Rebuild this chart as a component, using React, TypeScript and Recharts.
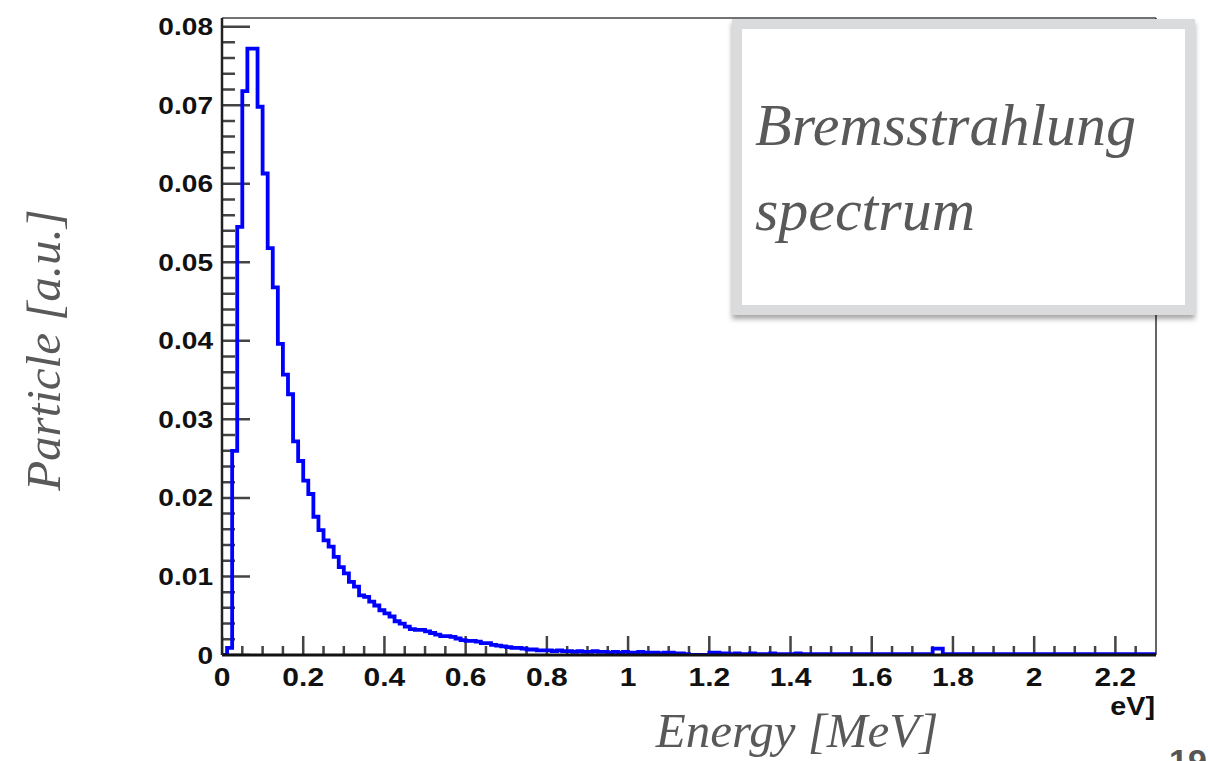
import React from "react";
import { ComposedChart, Line, XAxis, YAxis, ReferenceLine } from "recharts";

// Histogram binning (MeV)
const BIN_WIDTH = 0.0125;
const X_MAX = 2.3;
const Y_MAX = 0.0811;

// Bin contents, one value per 0.0125 MeV bin from 0 to 2.3 MeV
const BIN_VALUES: number[] = [
  0, 0.0009, 0.026, 0.0545, 0.0718, 0.0772, 0.0772, 0.0698, 0.0613, 0.0518,
  0.0468, 0.0396, 0.0357, 0.0332, 0.0272, 0.0247, 0.0222, 0.0205, 0.0176, 0.0159,
  0.0146, 0.0138, 0.0125, 0.0112, 0.0104, 0.0093, 0.0087, 0.0076, 0.0074, 0.0068,
  0.0063, 0.0057, 0.0053, 0.0049, 0.0043, 0.004, 0.0036, 0.0033, 0.0032, 0.0032,
  0.003, 0.0028, 0.0026, 0.0024, 0.0024, 0.0023, 0.0021, 0.0019, 0.0018, 0.0018,
  0.0017, 0.0015, 0.0015, 0.0013, 0.0012, 0.0011, 0.001, 0.0009, 0.0009, 0.0008,
  0.0007, 0.0007, 0.0006, 0.0006, 0.0006, 0.0005, 0.0006, 0.0005, 0.0005, 0.0004,
  0.0005, 0.0004, 0.0004, 0.0005, 0.0004, 0.0004, 0.0003, 0.0004, 0.0003, 0.0004,
  0.0003, 0.0003, 0.0004, 0.0003, 0.0003, 0.0003, 0.0002, 0.0003, 0.0003, 0.0002,
  0.0002, 0.0001, 0, 0, 0, 0, 0.0003, 0.0003, 0.0002, 0.0002,
  0.0001, 0.0002, 0.0001, 0.0001, 0.0002, 0.0001, 0.0001, 0.0001, 0.0002, 0.0001,
  0.0001, 0.0001, 0.0001, 0.0002, 0.0001, 0.0001, 0.0001, 0.0001, 0.0001, 0.0001,
  0.0001, 0.0001, 0.0001, 0.0001, 0.0001, 0.0001, 0.0001, 0.0001, 0.0001, 0.0001,
  0.0001, 0.0001, 0.0001, 0.0001, 0.0001, 0.0001, 0.0001, 0.0001, 0.0001, 0.0001,
  0.0008, 0.0008, 0.0001, 0.0001, 0.0001, 0.0001, 0.0001, 0.0001, 0.0001, 0.0001,
  0.0001, 0.0001, 0.0001, 0.0001, 0.0001, 0.0001, 0.0001, 0.0001, 0.0001, 0.0001,
  0.0001, 0.0001, 0.0001, 0.0001, 0.0001, 0.0001, 0.0001, 0.0001, 0.0001, 0.0001,
  0.0001, 0.0001, 0.0001, 0.0001, 0.0001, 0.0001, 0.0001, 0.0001, 0.0001, 0.0001,
  0.0001, 0.0001, 0.0001, 0.0001,
];

// Labelled axis divisions
const X_MAJOR = [0, 0.2, 0.4, 0.6, 0.8, 1, 1.2, 1.4, 1.6, 1.8, 2, 2.2];
const X_TICK_LABELS = ["0", "0.2", "0.4", "0.6", "0.8", "1", "1.2", "1.4", "1.6", "1.8", "2", "2.2"];
const Y_MAJOR = [0, 0.01, 0.02, 0.03, 0.04, 0.05, 0.06, 0.07, 0.08];
const Y_TICK_LABELS = ["0", "0.01", "0.02", "0.03", "0.04", "0.05", "0.06", "0.07", "0.08"];

// Unlabelled sub-divisions between labelled ticks
const X_MINOR_STEP = 0.05;
const Y_MINOR_STEP = 0.002;

const isMajor = (list: number[], v: number) => list.some((m) => Math.abs(m - v) < 1e-9);

const X_MINOR: number[] = [];
for (let i = 1; i * X_MINOR_STEP <= 2.25 + 1e-9; i++) {
  const v = i * X_MINOR_STEP;
  if (!isMajor(X_MAJOR, v)) X_MINOR.push(v);
}
const Y_MINOR: number[] = [];
for (let i = 1; i * Y_MINOR_STEP <= 0.08 + 1e-9; i++) {
  const v = i * Y_MINOR_STEP;
  if (!isMajor(Y_MAJOR, v)) Y_MINOR.push(v);
}

// Step-histogram points: left edge of each bin, plus closing edge
const histData = BIN_VALUES.map((v, i) => ({ e: i * BIN_WIDTH, v }));
histData.push({ e: BIN_VALUES.length * BIN_WIDTH, v: BIN_VALUES[BIN_VALUES.length - 1] });

// Chart frame
const CHART_W = 1208;
const CHART_H = 761;
const MARGIN = { top: 18, right: 52, bottom: 0, left: 0 };
const Y_AXIS_W = 222;
const X_AXIS_H = 106;
const PLOT_W = CHART_W - Y_AXIS_W - MARGIN.right;
const PLOT_H = CHART_H - MARGIN.top - X_AXIS_H;

// Inward tick lengths in pixels, turned into axis units
const Y_TICK_MAJOR_PX = 28;
const Y_TICK_MINOR_PX = 13;
const X_TICK_MAJOR_PX = 19;
const X_TICK_MINOR_PX = 9;
const alongX = (px: number) => (px / PLOT_W) * X_MAX;
const alongY = (px: number) => (px / PLOT_H) * Y_MAX;

// Tick marks as broken polylines (a null point lifts the pen between ticks)
type TickPt = { e: number; t: number | null };
const tickPath: TickPt[] = [];
const addYTick = (v: number, px: number) => {
  tickPath.push({ e: 0, t: v }, { e: alongX(px), t: v }, { e: alongX(px), t: null });
};
const addXTick = (v: number, px: number) => {
  tickPath.push({ e: v, t: 0 }, { e: v, t: alongY(px) }, { e: v, t: null });
};
Y_MAJOR.forEach((v) => addYTick(v, Y_TICK_MAJOR_PX));
Y_MINOR.forEach((v) => addYTick(v, Y_TICK_MINOR_PX));
X_MAJOR.forEach((v) => addXTick(v, X_TICK_MAJOR_PX));
X_MINOR.forEach((v) => addXTick(v, X_TICK_MINOR_PX));

const TICK_FONT = "'Liberation Sans', Arial, Helvetica, sans-serif";
const TITLE_FONT = "'Liberation Serif', 'Times New Roman', serif";
const TICK_COLOR = "#444";

const labelIndex = (list: number[], v: number) => list.findIndex((m) => Math.abs(m - v) < 1e-9);

const YTickLabel = (props: any) => {
  const { x, y, payload } = props;
  const idx = labelIndex(Y_MAJOR, payload.value);
  if (idx < 0) return <g />;
  return (
    <text
      transform={`translate(${x - 9},${y + 8.5}) scale(1.17,1)`}
      textAnchor="end"
      fontFamily={TICK_FONT}
      fontWeight="bold"
      fontSize={24}
      fill="#111"
    >
      {Y_TICK_LABELS[idx]}
    </text>
  );
};

const XTickLabel = (props: any) => {
  const { x, y, payload } = props;
  const idx = labelIndex(X_MAJOR, payload.value);
  if (idx < 0) return <g />;
  return (
    <text
      transform={`translate(${x},${y + 31}) scale(1.2,1)`}
      textAnchor="middle"
      fontFamily={TICK_FONT}
      fontWeight="bold"
      fontSize={25}
      fill="#111"
    >
      {X_TICK_LABELS[idx]}
    </text>
  );
};

export default function App() {
  return (
    <div
      style={{
        position: "absolute",
        left: 0,
        top: 0,
        width: CHART_W,
        height: CHART_H,
        overflow: "hidden",
        background: "#fff",
      }}
    >
      <ComposedChart width={CHART_W} height={CHART_H} data={histData} margin={MARGIN}>
        <XAxis
          dataKey="e"
          type="number"
          domain={[0, X_MAX]}
          ticks={X_MAJOR}
          interval={0}
          height={X_AXIS_H}
          tickSize={0}
          tickMargin={0}
          tickLine={false}
          axisLine={{ stroke: "#111", strokeWidth: 3 }}
          tick={(p: any) => <XTickLabel {...p} />}
          allowDataOverflow
        />
        <YAxis
          type="number"
          domain={[0, Y_MAX]}
          ticks={Y_MAJOR}
          interval={0}
          width={Y_AXIS_W}
          tickSize={0}
          tickMargin={0}
          tickLine={false}
          axisLine={{ stroke: "#222", strokeWidth: 2.5 }}
          tick={(p: any) => <YTickLabel {...p} />}
          allowDataOverflow
        />
        <ReferenceLine y={Y_MAX} stroke="#444" strokeWidth={1.5} />
        <ReferenceLine x={X_MAX} stroke="#333" strokeWidth={1.5} />
        <Line
          data={tickPath}
          dataKey="t"
          type="linear"
          stroke={TICK_COLOR}
          strokeWidth={2.5}
          strokeLinecap="butt"
          connectNulls={false}
          dot={false}
          activeDot={false}
          legendType="none"
          isAnimationActive={false}
        />
        <Line
          dataKey="v"
          type="stepAfter"
          stroke="#0000ff"
          strokeWidth={3.8}
          dot={false}
          activeDot={false}
          isAnimationActive={false}
        />
      </ComposedChart>

      <div
        style={{
          position: "absolute",
          left: 732,
          top: 19,
          width: 463,
          height: 296,
          boxSizing: "border-box",
          border: "10px solid #dadbdd",
          background: "#fff",
          boxShadow: "0 4px 5px rgba(0,0,0,0.35)",
        }}
      />

      <svg
        width={CHART_W}
        height={CHART_H}
        style={{ position: "absolute", left: 0, top: 0, pointerEvents: "none" }}
      >
        <g fontFamily={TITLE_FONT} fontStyle="italic" fill="#595959">
          <text x={755} y={145} fontSize={60}>Bremsstrahlung</text>
          <text x={755} y={230} fontSize={60}>spectrum</text>
          <text transform="translate(60,350) rotate(-90)" textAnchor="middle" fontSize={49}>
            Particle [a.u.]
          </text>
          <text x={797} y={747} textAnchor="middle" fontSize={49}>
            Energy [MeV]
          </text>
        </g>
        <text
          transform="translate(1155,715) scale(1.15,1)"
          textAnchor="end"
          fontFamily={TICK_FONT}
          fontWeight="bold"
          fontSize={25}
          fill="#111"
        >
          eV]
        </text>
        <text x={1169} y={773} fontFamily={TICK_FONT} fontWeight="bold" fontSize={34} fill="#555">
          19
        </text>
      </svg>
    </div>
  );
}
